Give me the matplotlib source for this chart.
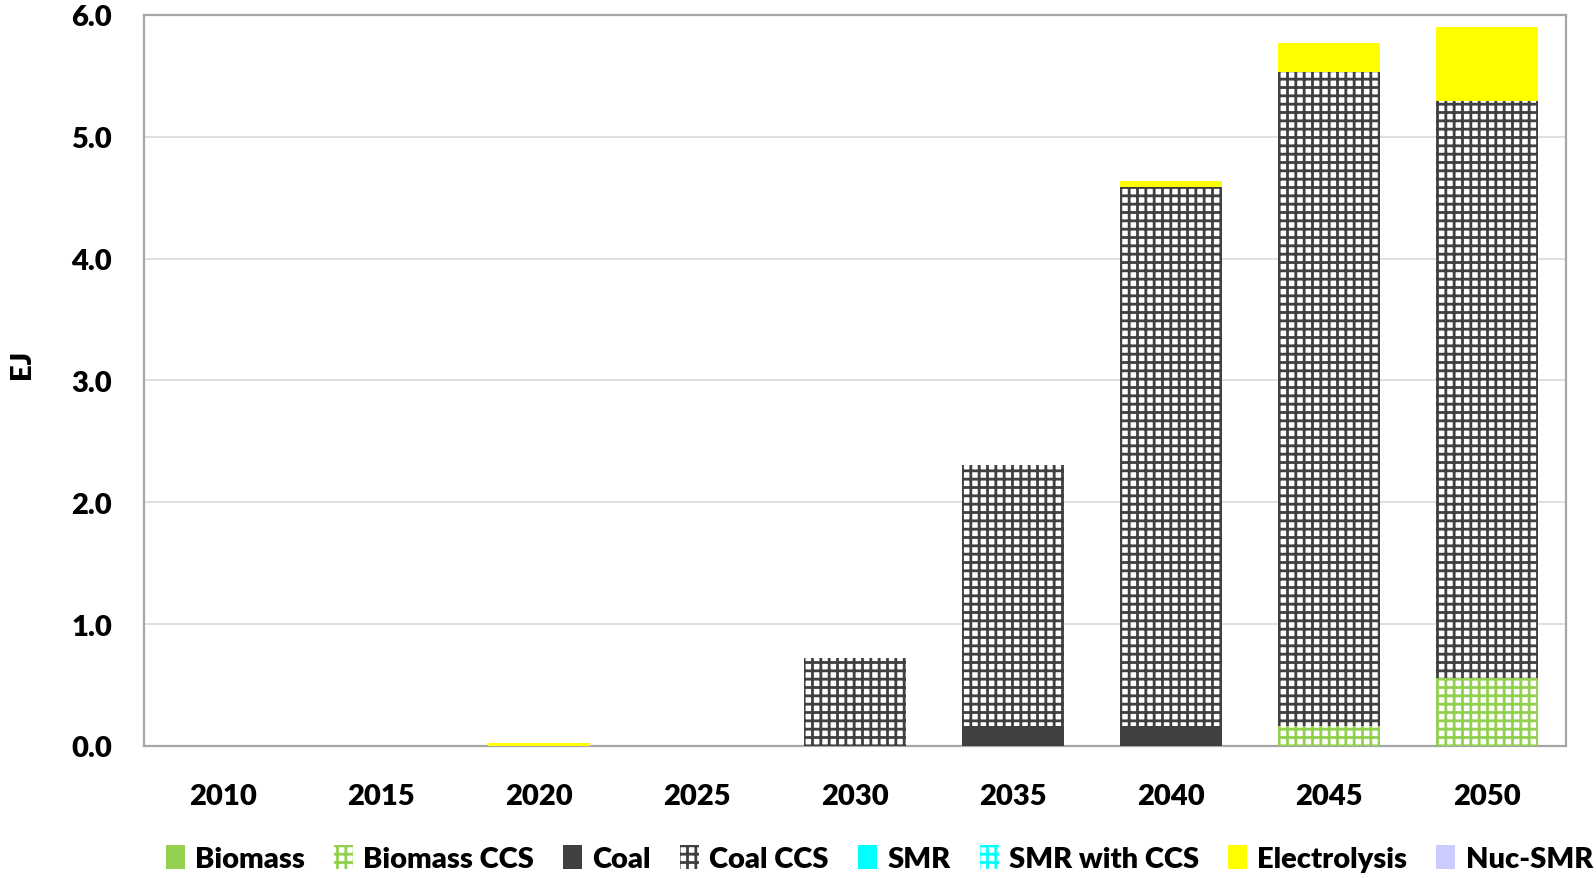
import matplotlib
matplotlib.use("Agg")
import matplotlib.pyplot as plt
import numpy as np

plt.rcParams['font.family'] = ['Lato', 'DejaVu Sans']
plt.rcParams['font.weight'] = 'heavy'
plt.rcParams['hatch.linewidth'] = 2.0

years = ['2010', '2015', '2020', '2025', '2030', '2035', '2040', '2045', '2050']

biomass      = [0, 0, 0, 0, 0, 0, 0, 0, 0]
biomass_ccs  = [0, 0, 0, 0, 0, 0, 0, 0.16, 0.56]
coal         = [0, 0, 0, 0, 0, 0.16, 0.16, 0, 0]
coal_ccs     = [0, 0, 0, 0, 0.72, 2.15, 4.43, 5.37, 4.73]
smr          = [0, 0, 0, 0, 0, 0, 0, 0, 0]
smr_ccs      = [0, 0, 0, 0, 0, 0, 0, 0, 0]
electrolysis = [0, 0, 0.025, 0, 0, 0, 0.05, 0.24, 0.61]
nuc_smr      = [0, 0, 0, 0, 0, 0, 0, 0, 0]

series = [
    ('Biomass',       biomass,      dict(facecolor='#92D050', edgecolor='#92D050', linewidth=0)),
    ('Biomass CCS',   biomass_ccs,  dict(facecolor='white', edgecolor='#92D050', hatch='++', linewidth=0)),
    ('Coal',          coal,         dict(facecolor='#404040', edgecolor='#404040', linewidth=0)),
    ('Coal CCS',      coal_ccs,     dict(facecolor='white', edgecolor='#404040', hatch='++', linewidth=0)),
    ('SMR',           smr,          dict(facecolor='#00FFFF', edgecolor='#00FFFF', linewidth=0)),
    ('SMR with CCS',  smr_ccs,      dict(facecolor='white', edgecolor='#00FFFF', hatch='++', linewidth=0)),
    ('Electrolysis',  electrolysis, dict(facecolor='#FFFF00', edgecolor='#FFFF00', linewidth=0)),
    ('Nuc-SMR',       nuc_smr,      dict(facecolor='#CCCCFF', edgecolor='#CCCCFF', linewidth=0)),
]

fig = plt.figure(figsize=(15.96, 8.79), dpi=100)
ax = fig.add_axes([0.0902, 0.1502, 0.891, 0.8316])

x = np.arange(len(years))
bottom = np.zeros(len(years))
handles = []
for name, vals, style in series:
    vals = np.asarray(vals, dtype=float)
    b = ax.bar(x, vals, width=0.65, bottom=bottom, label=name, zorder=3, **style)
    handles.append(b)
    bottom += vals

ax.set_xlim(-0.5, len(years) - 0.5)
ax.set_ylim(0, 6.0)
ax.set_yticks(np.arange(0, 6.01, 1.0))
ax.set_yticklabels([f'{v:.1f}' for v in np.arange(0, 6.01, 1.0)])
ax.set_xticks(x)
ax.set_xticklabels(years)
ax.tick_params(axis='both', length=0, labelsize=21)
ax.tick_params(axis='x', pad=27)
ax.tick_params(axis='y', pad=23)
for lab in ax.get_xticklabels() + ax.get_yticklabels():
    lab.set_fontweight('heavy')

ax.grid(axis='y', color='#D9D9D9', linewidth=1.2, zorder=0)
for s in ax.spines.values():
    s.set_color('#A6A6A6')
    s.set_linewidth(1.6)

fig.text(0.014, 0.585, 'EJ', rotation=90, ha='center', va='center',
         fontsize=21, fontweight='heavy')

leg = fig.legend(handles=handles, labels=[s[0] for s in series],
                 loc='center', bbox_to_anchor=(0.551, 0.022), ncol=8,
                 frameon=False, fontsize=21, handlelength=0.65, handleheight=0.85,
                 handletextpad=0.35, columnspacing=1.0, borderaxespad=0)
for t in leg.get_texts():
    t.set_fontweight('heavy')

fig.savefig('out.png', dpi=100)
